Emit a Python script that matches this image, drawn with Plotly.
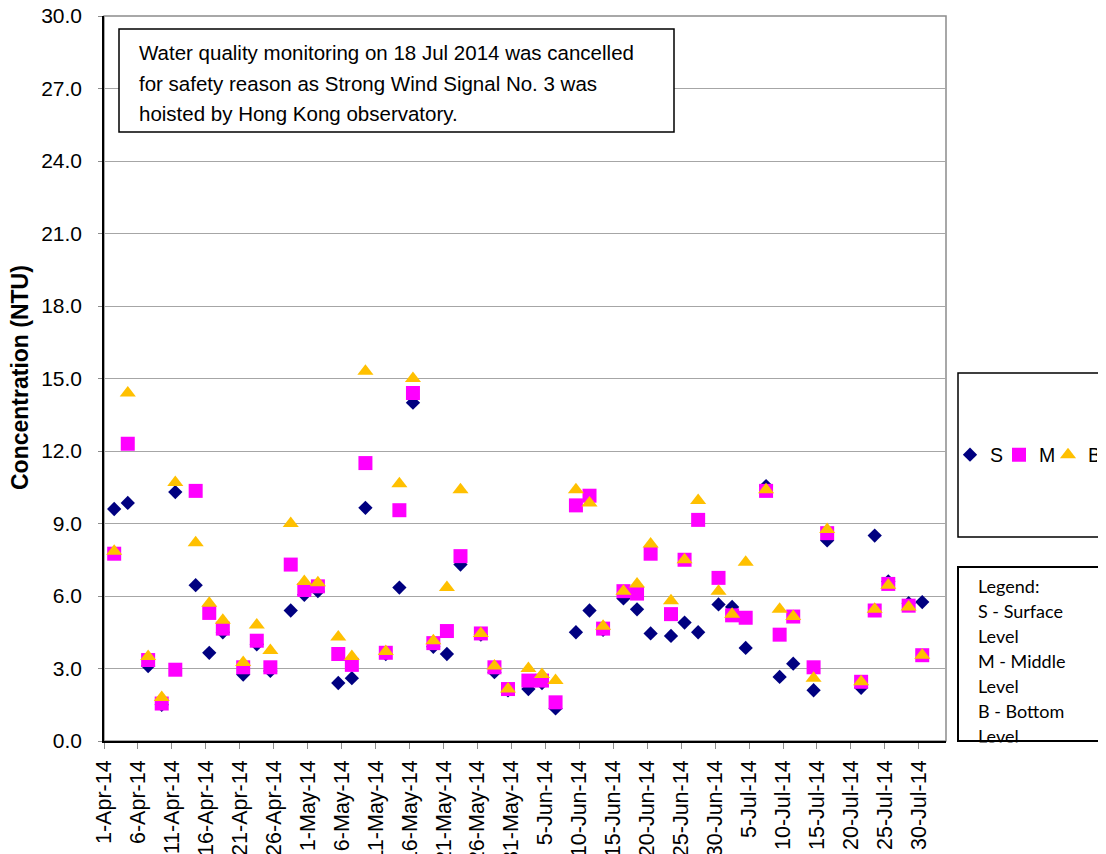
import pandas as pd
import plotly.graph_objects as go

# ---------------- data ----------------
dates = [
    "2014-04-02", "2014-04-04", "2014-04-07", "2014-04-09", "2014-04-11", "2014-04-14",
    "2014-04-16", "2014-04-18", "2014-04-21", "2014-04-23", "2014-04-25", "2014-04-28",
    "2014-04-30", "2014-05-02", "2014-05-05", "2014-05-07", "2014-05-09", "2014-05-12",
    "2014-05-14", "2014-05-16", "2014-05-19", "2014-05-21", "2014-05-23", "2014-05-26",
    "2014-05-28", "2014-05-30", "2014-06-02", "2014-06-04", "2014-06-06", "2014-06-09",
    "2014-06-11", "2014-06-13", "2014-06-16", "2014-06-18", "2014-06-20", "2014-06-23",
    "2014-06-25", "2014-06-27", "2014-06-30", "2014-07-02", "2014-07-04", "2014-07-07",
    "2014-07-09", "2014-07-11", "2014-07-14", "2014-07-16", "2014-07-21", "2014-07-23",
    "2014-07-25", "2014-07-28", "2014-07-30",
]
surface = [
    9.6, 9.85, 3.1, 1.5, 10.3, 6.45, 3.65, 4.5, 2.75, 4.0, 2.9, 5.4,
    6.05, 6.2, 2.4, 2.6, 9.65, 3.6, 6.35, 14.0, 3.9, 3.6, 7.3, 4.4,
    2.85, 2.1, 2.15, 2.4, 1.35, 4.5, 5.4, 4.6, 5.9, 5.45, 4.45, 4.35,
    4.9, 4.5, 5.65, 5.55, 3.85, 10.55, 2.65, 3.2, 2.1, 8.3, 2.2, 8.5,
    6.6, 5.7, 5.75,
]
middle = [
    7.75, 12.3, 3.35, 1.55, 2.95, 10.35, 5.3, 4.65, 3.05, 4.15, 3.05, 7.3,
    6.25, 6.4, 3.6, 3.15, 11.5, 3.65, 9.55, 14.4, 4.05, 4.55, 7.65, 4.45,
    3.05, 2.15, 2.5, 2.5, 1.6, 9.75, 10.15, 4.65, 6.2, 6.1, 7.75, 5.25,
    7.5, 9.15, 6.75, 5.2, 5.1, 10.35, 4.4, 5.15, 3.05, 8.6, 2.45, 5.4,
    6.5, 5.6, 3.55,
]
bottom = [
    7.85, 14.4, 3.5, 1.8, 10.7, 8.2, 5.7, 5.0, 3.25, 4.8, 3.75, 9.0,
    6.6, 6.55, 4.3, 3.5, 15.3, 3.7, 10.65, 15.0, 4.15, 6.35, 10.4, 4.45,
    3.1, 2.15, 3.0, 2.75, 2.5, 10.4, 9.85, 4.75, 6.2, 6.5, 8.15, 5.8,
    7.5, 9.95, 6.2, 5.25, 7.4, 10.4, 5.45, 5.15, 2.6, 8.75, 2.45, 5.45,
    6.45, 5.55, 3.55,
]
series_names = ["S", "M", "B"]
note_lines = [
    "Water quality monitoring on 18 Jul 2014 was cancelled",
    "for safety reason as Strong Wind Signal No. 3 was",
    "hoisted by Hong Kong observatory.",
]
key_lines = ["Legend:", "S - Surface", "Level", "M - Middle", "Level", "B - Bottom", "Level"]
y_title = "Concentration (NTU)"

# ---------------- layout geometry (window pixels) ----------------
WIN_W, WIN_H = 1106, 854
OFF = 8                       # default body margin of the page
W, H = WIN_W - OFF, WIN_H - OFF
L, R, T, B = 104, 946, 16, 741   # plot area in window pixels
PW, PH = R - L, B - T


def px(x):
    return (x - L) / PW


def py(y):
    return (B - y) / PH


# Excel date axis: points sit in the middle of each day slot
x = pd.to_datetime(dates) + pd.Timedelta(hours=12)

ARIAL = "Liberation Sans, Arial, sans-serif"

fig = go.Figure()
fig.add_trace(go.Scatter(x=x, y=surface, mode="markers", name=series_names[0],
                         marker=dict(symbol="diamond", size=11, color="#000080",
                                     line=dict(width=0))))
fig.add_trace(go.Scatter(x=x, y=middle, mode="markers", name=series_names[1],
                         marker=dict(symbol="square", size=14, color="#FF00FF",
                                     line=dict(width=0))))
fig.add_trace(go.Scatter(x=x, y=bottom, mode="markers", name=series_names[2],
                         marker=dict(symbol="triangle-up", size=14, color="#FFC000",
                                     line=dict(width=0))))

shapes = [
    dict(type="rect", xref="paper", yref="paper", x0=0, x1=1, y0=0, y1=1,
         line=dict(color="#8C8C8C", width=1.5), layer="below"),
    dict(type="rect", xref="paper", yref="paper", x0=px(119), x1=px(674),
         y0=py(132), y1=py(29), line=dict(color="black", width=1.5),
         fillcolor="white", layer="above"),
    dict(type="rect", xref="paper", yref="paper", x0=px(958), x1=px(1120),
         y0=py(537), y1=py(373), line=dict(color="black", width=1.5),
         fillcolor="rgba(0,0,0,0)", layer="above"),
    dict(type="rect", xref="paper", yref="paper", x0=px(958), x1=px(1120),
         y0=py(741), y1=py(567), line=dict(color="black", width=2),
         fillcolor="rgba(0,0,0,0)", layer="above"),
]

annotations = []
for i, line in enumerate(note_lines):
    annotations.append(dict(xref="paper", yref="paper", x=px(137), y=py(52 + 31 * i),
                            xanchor="left", yanchor="middle", showarrow=False, text=line,
                            font=dict(family=ARIAL, size=20.5, color="black")))
for i, line in enumerate(key_lines):
    annotations.append(dict(xref="paper", yref="paper", x=px(976), y=py(586 + 25 * i),
                            xanchor="left", yanchor="middle", showarrow=False, text=line,
                            font=dict(family="Lato, Carlito, Calibri, sans-serif", size=18,
                                      color="black")))
# cover so the last key line looks clipped by its box
annotations.append(dict(xref="paper", yref="paper", x=px(956), y=py(742.2),
                        xanchor="left", yanchor="top", showarrow=False, text="",
                        width=170, height=24, bgcolor="white", borderpad=0))
annotations.append(dict(xref="paper", yref="paper", x=px(20), y=py(378),
                        xanchor="center", yanchor="middle", showarrow=False,
                        text="<b>" + y_title + "</b>", textangle=-90,
                        font=dict(family=ARIAL, size=23, color="black")))

fig.update_layout(
    width=W, height=H,
    margin=dict(l=L - OFF, r=WIN_W - R, t=T - OFF, b=WIN_H - B, pad=0, autoexpand=False),
    paper_bgcolor="white", plot_bgcolor="white",
    shapes=shapes, annotations=annotations,
    showlegend=True,
    legend=dict(orientation="h", x=px(950), y=py(455), xanchor="left", yanchor="middle",
                font=dict(family=ARIAL, size=19.5, color="black"),
                bgcolor="rgba(0,0,0,0)", borderwidth=0, itemwidth=30,
                entrywidth=4, entrywidthmode="pixels", tracegroupgap=0),
    xaxis=dict(
        type="date", range=["2014-04-01", "2014-08-03"],
        tick0="2014-04-01", dtick=5 * 86400000, tickformat="%-d-%b-%y",
        tickangle=-90, ticks="outside", ticklen=6, tickcolor="#8C8C8C",
        ticklabelstandoff=3, ticklabeloverflow="allow",
        showgrid=False, zeroline=False, showline=True, linecolor="black", linewidth=1.5,
        tickfont=dict(family=ARIAL, size=21.5, color="black"), automargin=False,
    ),
    yaxis=dict(
        range=[0, 30], tick0=0, dtick=3, tickformat=".1f",
        ticks="outside", ticklen=4, tickcolor="#8C8C8C", ticklabelstandoff=12,
        ticklabeloverflow="allow",
        showgrid=True, gridcolor="#A6A6A6", gridwidth=1,
        zeroline=False, showline=True, linecolor="black", linewidth=1.5,
        tickfont=dict(family=ARIAL, size=21, color="black"), automargin=False,
    ),
)

fig.write_html("out.html")
